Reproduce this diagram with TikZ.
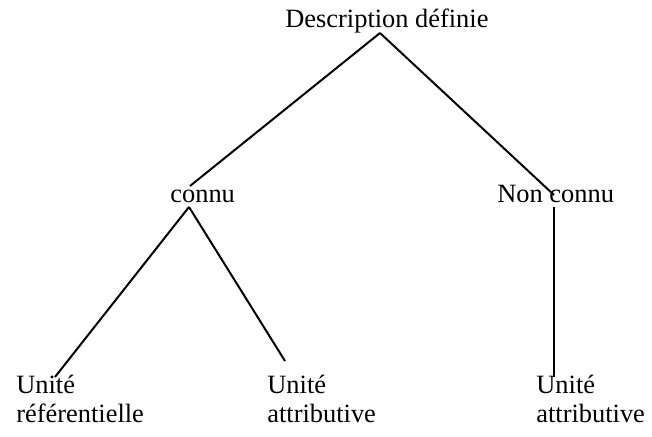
\documentclass[tikz,border=0pt]{standalone}
\usepackage{fontspec}
\setmainfont{Liberation Serif}
\begin{document}
\begin{tikzpicture}[x=0.5pt,y=0.5pt]
    \tikzstyle{every node}+=[inner sep=0pt]
    \tikzstyle{word}=[anchor=base west, font=\fontsize{13.2}{14.25}\selectfont]
    \tikzstyle{leaf}=[anchor=north west, align=left, font=\fontsize{13.2}{14.25}\selectfont]
    \tikzstyle{branch}=[black, line width=1pt]
    \useasboundingbox (0,0) rectangle (652,-437);
    \node [word] (desc) at (285,-28) {Description définie};
    \node [word] (connu) at (170,-203) {connu};
    \node [word] (nonconnu) at (497,-203) {Non connu};
    \node [leaf] (uref) at (16,-375) {Unité\\référentielle};
    \node [leaf] (uattr) at (267,-375) {Unité\\attributive};
    \node [leaf] (uattrb) at (536,-375) {Unité\\attributive};
    \coordinate (desc-foot) at (380,-33);
    \coordinate (connu-top) at (190,-186);
    \coordinate (connu-foot) at (189,-207);
    \coordinate (nonconnu-top) at (554,-195);
    \coordinate (nonconnu-foot) at (554,-207);
    \coordinate (uref-top) at (55,-377);
    \coordinate (uattr-top) at (285,-361);
    \coordinate (uattrb-top) at (554,-377);
    \draw [branch] (desc-foot) -- (connu-top);
    \draw [branch] (desc-foot) -- (nonconnu-top);
    \draw [branch] (connu-foot) -- (uref-top);
    \draw [branch] (connu-foot) -- (uattr-top);
    \draw [branch] (nonconnu-foot) -- (uattrb-top);
\end{tikzpicture}
\end{document}
